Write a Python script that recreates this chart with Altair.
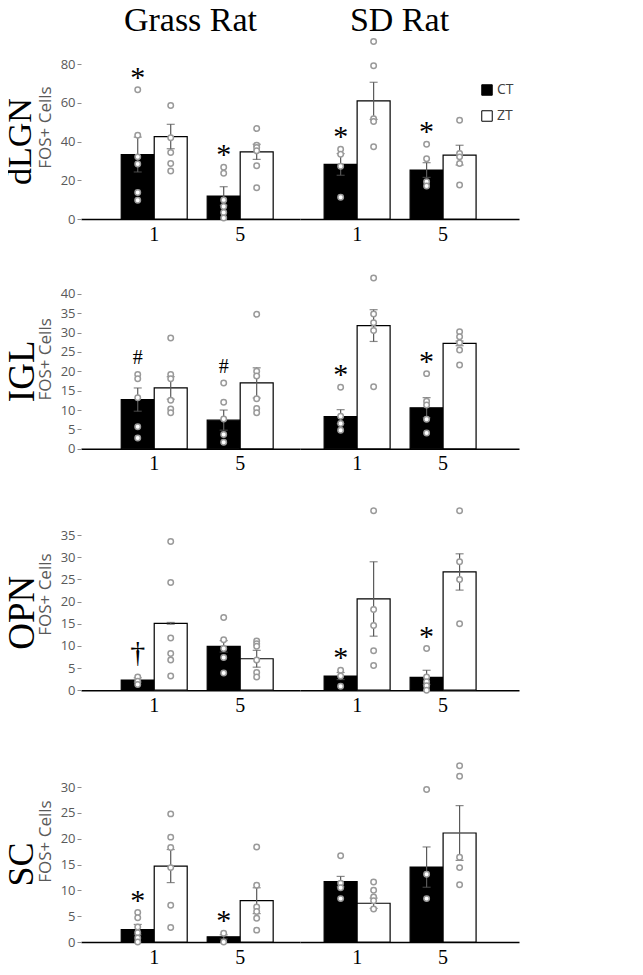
import altair as alt
import pandas as pd

# ---------------- data ----------------
regions = ["dLGN", "IGL", "OPN", "SC"]
species = ["Grass Rat", "SD Rat"]
days = ["1", "5"]
treatments = ["CT", "ZT"]

# group order inside every region: Grass 1 CT, Grass 1 ZT, Grass 5 CT, Grass 5 ZT, SD 1 CT, SD 1 ZT, SD 5 CT, SD 5 ZT
group_species = ["Grass Rat"] * 4 + ["SD Rat"] * 4
group_day = ["1", "1", "5", "5"] * 2
group_trt = ["CT", "ZT"] * 4

mean_dLGN = [33.3, 42.6, 11.9, 34.7, 28.2, 61.0, 25.3, 33.0]
sem_dLGN = [9.0, 6.3, 4.8, 3.9, 5.6, 9.6, 3.8, 5.1]
mean_IGL = [12.7, 15.7, 7.4, 17.0, 8.3, 31.8, 10.6, 27.2]
sem_IGL = [3.0, 2.9, 2.6, 3.9, 1.8, 4.1, 2.6, 0.6]
mean_OPN = [2.3, 15.1, 9.9, 7.1, 3.2, 20.6, 2.9, 26.7]
sem_OPN = [0.5, 0.2, 1.3, 1.9, 0.8, 8.4, 1.6, 4.1]
mean_SC = [2.4, 14.7, 1.0, 8.0, 11.7, 7.5, 14.5, 21.1]
sem_SC = [1.0, 3.2, 0.4, 2.5, 1.0, 1.0, 3.9, 5.3]

pts_dLGN = [
    [66.7, 43.2, 32.1, 28.4, 13.7, 9.7],
    [58.6, 42.0, 34.4, 28.7, 24.8],
    [26.7, 23.6, 9.9, 6.5, 3.4, 0.5],
    [46.7, 38.1, 36.9, 35.2, 27.5, 16.2],
    [36.0, 33.5, 27.3, 11.3],
    [91.6, 79.1, 51.8, 50.4, 37.3],
    [38.6, 31.1, 19.3, 17.1],
    [51.0, 33.8, 32.1, 28.7, 17.6],
]
pts_IGL = [
    [19.2, 18.1, 13.2, 5.7, 2.8],
    [28.6, 19.2, 18.1, 12.5, 10.3, 9.3],
    [17.0, 12.0, 7.7, 3.7, 1.7],
    [34.7, 20.0, 18.8, 12.9, 10.4, 9.3],
    [15.9, 8.4, 6.5, 4.8],
    [44.1, 34.8, 32.5, 30.5, 16.0],
    [19.4, 12.3, 11.3, 7.6, 4.1],
    [30.2, 28.9, 27.4, 25.5, 21.6],
]
pts_OPN = [
    [3.0, 2.0, 1.3],
    [33.6, 24.3, 11.8, 8.3, 6.8, 3.2],
    [16.4, 11.4, 9.4, 7.4, 3.9],
    [11.1, 10.5, 9.9, 6.8, 4.0, 3.0],
    [4.5, 3.2, 0.9],
    [40.5, 18.2, 14.6, 8.9, 5.6],
    [9.4, 3.0, 1.9, 1.0, 0.0],
    [40.5, 29.0, 25.0, 15.0],
]
pts_SC = [
    [5.7, 4.7, 2.9, 1.8, 0.8, 0.0],
    [24.8, 20.3, 18.3, 14.4, 7.1, 2.8],
    [1.7, 0.0],
    [18.4, 11.0, 6.8, 5.9, 4.6, 2.3],
    [16.7, 11.4, 10.5, 8.4],
    [11.6, 10.0, 8.7, 8.0, 6.4],
    [29.5, 13.1, 8.4],
    [34.1, 32.1, 16.4, 14.4, 11.1],
]

sig_dLGN = ["*", "", "*", "", "*", "", "*", ""]
sig_IGL = ["#", "", "#", "", "*", "", "*", ""]
sig_OPN = ["\u2020", "", "", "", "*", "", "*", ""]
sig_SC = ["*", "", "*", "", "", "", "", ""]

ticks_dLGN = [0, 20, 40, 60, 80]
ticks_IGL = [0, 5, 10, 15, 20, 25, 30, 35, 40]
ticks_OPN = [0, 5, 10, 15, 20, 25, 30, 35]
ticks_SC = [0, 5, 10, 15, 20, 25, 30]

data = {
    "dLGN": (mean_dLGN, sem_dLGN, pts_dLGN, sig_dLGN, ticks_dLGN),
    "IGL": (mean_IGL, sem_IGL, pts_IGL, sig_IGL, ticks_IGL),
    "OPN": (mean_OPN, sem_OPN, pts_OPN, sig_OPN, ticks_OPN),
    "SC": (mean_SC, sem_SC, pts_SC, sig_SC, ticks_SC),
}

# ---------------- layout / style ----------------
PANEL_W = 219
PLOT_PX = 155  # pixels from 0 to the top tick
domain_top = {"dLGN": 95.0, "IGL": 46.4, "OPN": 43.4, "SC": 39.1}
region_font = {"dLGN": 34, "IGL": 37, "OPN": 37, "SC": 36}
LABEL_EDGE = -77  # left edge of the region label box, relative to plot
SERIF = "Liberation Serif"
SANS = "Open Sans"
GRAY_TXT = "#595959"
sig_style = {"*": (30, -3), "#": (20, -10), "\u2020": (30, -15)}


def panel(region, sp):
    means, sems, pts, sig, ticks = data[region]
    idx = [i for i in range(8) if group_species[i] == sp]
    bars = pd.DataFrame({
        "day": [group_day[i] for i in idx],
        "treatment": [group_trt[i] for i in idx],
        "mean": [means[i] for i in idx],
        "lo": [means[i] - sems[i] for i in idx],
        "hi": [means[i] + sems[i] for i in idx],
    })
    prow = []
    for i in idx:
        for v in pts[i]:
            prow.append({"day": group_day[i], "treatment": group_trt[i], "v": v})
    pdf = pd.DataFrame(prow)
    srow = []
    for i in idx:
        if sig[i]:
            srow.append({"day": group_day[i], "treatment": group_trt[i],
                         "sym": sig[i], "top": max(pts[i])})
    sdf = pd.DataFrame(srow)

    top = domain_top[region]
    height = PLOT_PX * top / ticks[-1]
    left = sp == species[0]

    xenc = alt.X("day:N", scale=alt.Scale(domain=days, paddingInner=0.2326,
                                          paddingOuter=0.39, align=0.6 if left else 0.36),
                 axis=alt.Axis(title=None, labelAngle=0, ticks=False, domainColor="black",
                               domainWidth=1.5, labelFont=SERIF, labelFontSize=20,
                               labelColor="black", labelPadding=5))
    xo = alt.XOffset("treatment:N", scale=alt.Scale(domain=treatments, paddingInner=0,
                                                     paddingOuter=0))
    xp = alt.X("day:N")
    xop = alt.XOffset("treatment:N")
    yscale = alt.Scale(domain=[0, top], nice=False, zero=True)
    if left:
        yaxis = alt.Axis(values=ticks, domain=False, grid=False, tickSize=4,
                         tickColor="#8c8c8c", labelFont=SANS, labelFontSize=13,
                         labelColor=GRAY_TXT, labelPadding=2, labelOverlap=False,
                         title="FOS+ Cells",
                         titleFont=SANS, titleFontSize=17, titleFontWeight="normal",
                         titleColor=GRAY_TXT, titlePadding=6)
    else:
        yaxis = None

    def Y(field):
        return alt.Y(field, type="quantitative", scale=yscale, axis=yaxis)

    show_legend = (region == regions[0]) and not left
    legend = alt.Legend(title=None, orient="none", legendX=180, legendY=48,
                        symbolType="square", symbolSize=110, symbolStrokeColor="black",
                        symbolStrokeWidth=1, labelFont=SANS, labelFontSize=14,
                        labelColor="#404040", rowPadding=10, labelOffset=3) if show_legend else None

    base = alt.Chart(bars)
    bar = base.mark_bar(stroke="black", strokeWidth=1.2).encode(
        x=xenc, xOffset=xo, y=Y("mean"),
        fill=alt.Fill("treatment:N", scale=alt.Scale(domain=treatments, range=["black", "white"]),
                      legend=legend),
    )
    err = base.mark_rule(color=GRAY_TXT, strokeWidth=1.2).encode(
        x=xp, xOffset=xop, y=Y("lo"), y2="hi:Q")
    cap_hi = base.mark_tick(color=GRAY_TXT, size=8, thickness=1.2).encode(
        x=xp, xOffset=xop, y=Y("hi"))
    cap_lo = base.mark_tick(color=GRAY_TXT, size=8, thickness=1.2).encode(
        x=xp, xOffset=xop, y=Y("lo"))
    dots = alt.Chart(pdf).mark_circle(fill="white", stroke="#9a9a9a", strokeWidth=1.5,
                                      size=30, opacity=1).encode(
        x=xp, xOffset=xop, y=Y("v"))
    layers = [bar, err, cap_hi, cap_lo, dots]
    if len(sdf):
        for sym, (fs, dy) in sig_style.items():
            sub = sdf[sdf["sym"] == sym]
            if len(sub):
                layers.append(alt.Chart(sub).mark_text(
                    font=SERIF, fontSize=fs, color="black", baseline="alphabetic", dy=dy
                ).encode(x=xp, xOffset=xop, y=Y("top"), text="sym:N"))
    if left:
        fs = region_font[region]
        lab = pd.DataFrame({"label": [region], "mid": [ticks[-1] / 2]})
        layers.append(alt.Chart(lab).mark_text(
            angle=270, font=SERIF, fontSize=fs, color="black", baseline="middle", align="center"
        ).encode(x=alt.value(LABEL_EDGE + fs / 2), y=Y("mid"), text="label:N"))

    props = dict(width=PANEL_W, height=height)
    if region == regions[0]:
        props["title"] = alt.TitleParams(sp, font=SERIF, fontSize=34, fontWeight="normal",
                                         color="black", anchor="middle", frame="group",
                                         offset=-3, dx=0 if left else -10)
    return alt.layer(*layers).properties(**props)


rows = []
for r in regions:
    row = alt.hconcat(panel(r, species[0]), panel(r, species[1]), spacing=0).resolve_scale(
        x="independent", y="independent", fill="independent", xOffset="independent"
    ).resolve_axis(y="independent")
    rows.append(row)

chart = alt.vconcat(*rows, spacing=24).resolve_scale(
    x="independent", y="independent", fill="independent", xOffset="independent"
).properties(
    padding={"left": -5, "top": -4, "right": 5, "bottom": 0},
    background="white",
).configure_view(strokeWidth=0).configure_axis(labelOverlap=False)

chart.save("out.html", embed_options={"renderer": "svg", "actions": False})
